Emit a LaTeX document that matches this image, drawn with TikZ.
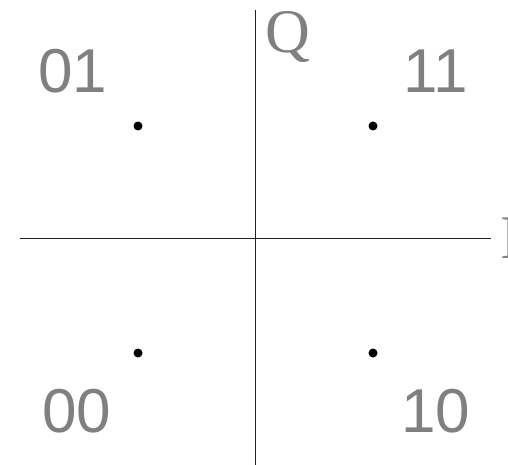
\documentclass[tikz,border=0pt]{standalone}
\usepackage{fontspec}
\setmainfont{Liberation Sans}
\newfontfamily\qfont{Liberation Serif}
\usetikzlibrary{positioning}

\definecolor{labgray}{HTML}{808080}
\definecolor{axisgray}{HTML}{222222}

\tikzset{
  axis/.style={draw=axisgray,line width=1.5pt},
  symbol/.style={circle,fill=black,inner sep=0pt,minimum size=9pt},
  bits/.style={text=labgray,inner sep=0pt,font=\fontsize{62}{62}\selectfont},
  axlabel/.style={text=labgray,inner sep=0pt,font=\qfont\fontsize{62}{62}\selectfont}
}

\begin{document}
\begin{tikzpicture}[x=1pt,y=-1pt]

      \useasboundingbox (0,0) rectangle (508,465);

      % axes
      \coordinate (west) at (19.5,238.5);
      \coordinate (east) at (491,238.5);
      \coordinate (north) at (255.5,10);
      \coordinate (south) at (255.5,465);
      \draw[axis] (west) -- (east);
      \draw[axis] (north) -- (south);

      % axis labels
      \node[axlabel,anchor=west] (qlab) at (265,37) {Q};
      \node[axlabel,anchor=west] (ilab) at (500,238) {I};

      % constellation points
      \foreach \name/\x/\y in {p01/138/126, p11/373/126, p00/138/353, p10/373/353}
        \node[symbol] (\name) at (\x,\y) {};

      % bit labels
      \foreach \name/\x/\y/\lab in {
        b01/73/71.5/01,
        b11/436/71.5/11,
        b00/77/411/00,
        b10/436/411/10}
        \node[bits] (\name) at (\x,\y) {\lab};

\end{tikzpicture}
\end{document}
